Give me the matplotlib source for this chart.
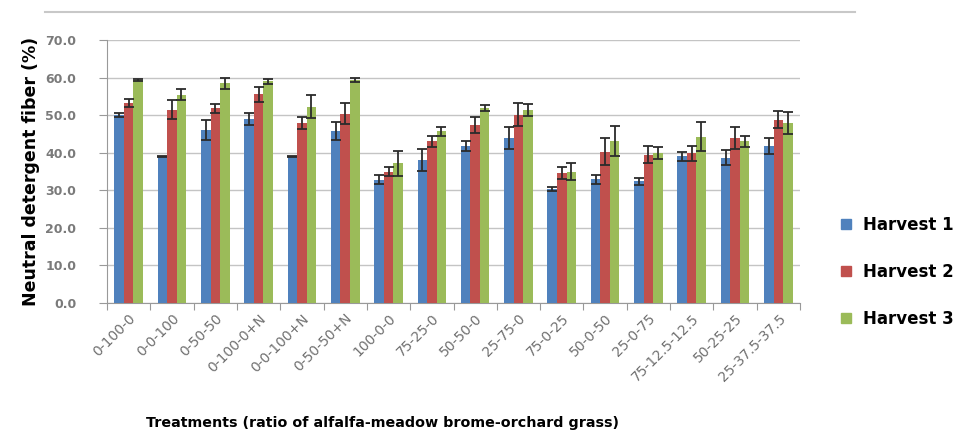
import numpy as np
import matplotlib.pyplot as plt
from matplotlib.lines import Line2D

treatments = ["0-100-0", "0-0-100", "0-50-50", "0-100-0+N", "0-0-100+N", "0-50-50+N",
              "100-0-0", "75-25-0", "50-50-0", "25-75-0", "75-0-25", "50-0-50",
              "25-0-75", "75-12.5-12.5", "50-25-25", "25-37.5-37.5"]

harvest1 = [50.1, 39.0, 46.0, 49.0, 39.0, 45.7, 32.8, 38.1, 41.7, 43.9, 30.3, 33.0, 32.4, 39.0, 38.6, 41.8]
harvest1_err = [0.6, 0.2, 2.7, 1.6, 0.2, 2.4, 1.2, 3.0, 1.3, 3.0, 0.6, 1.2, 1.0, 1.1, 2.0, 2.2]
harvest2 = [53.2, 51.4, 51.8, 55.5, 47.9, 50.4, 35.0, 43.0, 47.4, 50.1, 34.6, 40.3, 39.5, 39.9, 43.9, 48.8]
harvest2_err = [1.0, 2.5, 1.1, 1.9, 1.6, 2.8, 1.3, 1.5, 2.2, 3.0, 1.5, 3.5, 2.2, 2.0, 3.0, 2.2]
harvest3 = [59.4, 55.4, 58.5, 59.0, 52.3, 59.4, 37.2, 45.7, 51.9, 51.4, 35.0, 43.0, 39.9, 44.3, 43.0, 47.9]
harvest3_err = [0.2, 1.5, 1.5, 0.7, 3.0, 0.5, 3.3, 1.2, 0.8, 1.5, 2.3, 4.0, 1.7, 3.8, 1.5, 2.9]

labels = ["Harvest 1", "Harvest 2", "Harvest 3"]
colors = ["#4f81bd", "#c0504d", "#9bbb59"]

fig = plt.figure(figsize=(9.73, 4.41), dpi=100)
ax = fig.add_axes([107/973, 1-303/441, (800-107)/973, (303-40)/441])

x = np.arange(len(treatments))
w = 0.22
series = [(harvest1, harvest1_err), (harvest2, harvest2_err), (harvest3, harvest3_err)]
for i, (vals, errs) in enumerate(series):
    ax.bar(x + (i - 1) * w, vals, w, yerr=errs, color=colors[i], label=labels[i], zorder=3,
           error_kw=dict(ecolor="#2b2b2b", elinewidth=1.3, capsize=3.5, capthick=1.3, zorder=4))

ax.set_xlim(-0.5, len(treatments) - 0.5)
ax.set_ylim(0, 70)
ax.set_yticks(np.arange(0, 71, 10))
ax.set_yticklabels([f"{v:.1f}" for v in np.arange(0, 71, 10)], color="#7a7a7a",
                   fontsize=9, fontweight="bold")
ax.tick_params(axis="y", length=6, color="#999999", pad=16)
ax.grid(axis="y", color="#c4c4c4", lw=1, zorder=0)

# ticks between categories, labels under centres
ax.set_xticks(np.arange(-0.5, len(treatments), 1))
ax.set_xticklabels([])
ax.tick_params(axis="x", which="major", length=5, color="#999999")
ax.set_xticks(x, minor=True)
ax.set_xticklabels(treatments, minor=True, rotation=45, ha="right", rotation_mode="anchor",
                   fontsize=10, color="#707070")
ax.tick_params(axis="x", which="minor", length=0, pad=6)

for s in ["top", "right"]:
    ax.spines[s].set_visible(False)
for s in ["left", "bottom"]:
    ax.spines[s].set_color("#999999")

ax.set_ylabel("Neutral detergent fiber (%)", fontsize=12.5, fontweight="bold", labelpad=4)
fig.text(383/973, 1-423/441, "Treatments (ratio of alfalfa-meadow brome-orchard grass)",
         ha="center", va="center", fontsize=10.3, fontweight="bold")

handles = [Line2D([], [], marker="s", ls="", color=c, markersize=7) for c in colors]
fig.legend(handles, labels, loc="center left", bbox_to_anchor=(821/973, 1-272/441),
           frameon=False, prop=dict(size=12, weight="bold"), labelspacing=1.75,
           handletextpad=0.4, handlelength=1.2)

fig.add_artist(Line2D([45/973, 855/973], [1-12/441, 1-12/441], color="#c8c8c8", lw=1.5))

fig.savefig("out.png", dpi=100)
